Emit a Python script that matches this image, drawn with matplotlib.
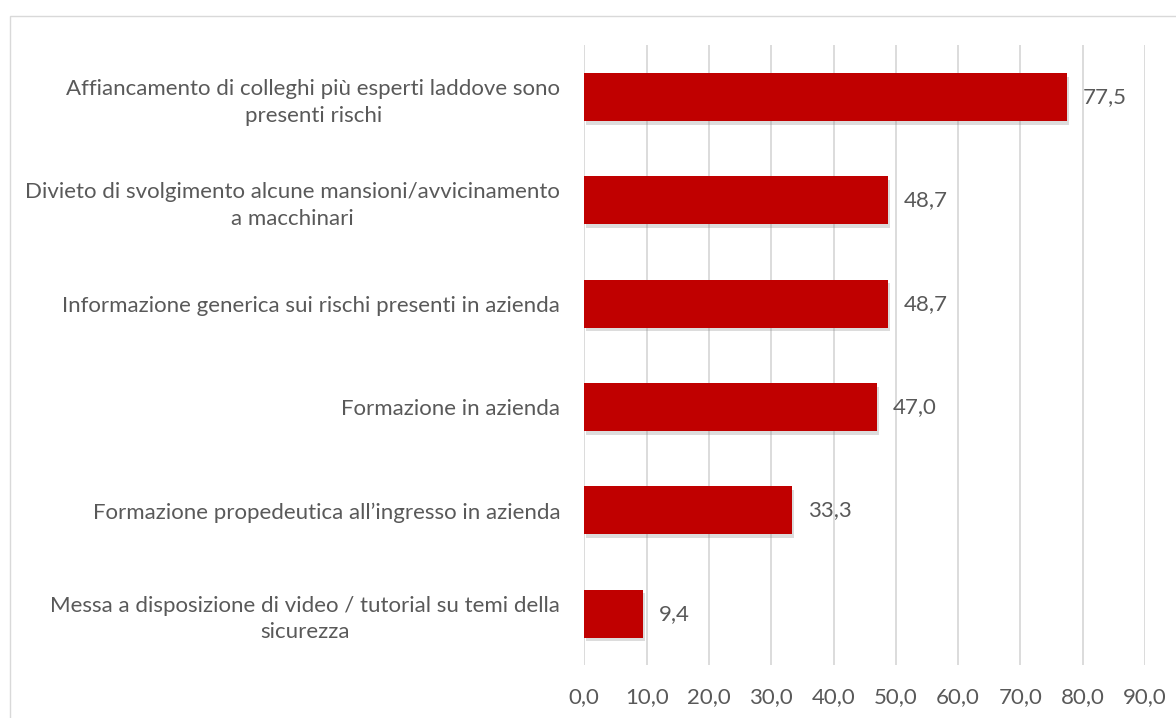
import matplotlib
matplotlib.use("Agg")
import matplotlib.pyplot as plt
import matplotlib.patheffects as pe
from matplotlib.patches import Rectangle

categories = [
    "Affiancamento di colleghi più esperti laddove sono\npresenti rischi",
    "Divieto di svolgimento alcune mansioni/avvicinamento\na macchinari",
    "Informazione generica sui rischi presenti in azienda",
    "Formazione in azienda",
    "Formazione propedeutica all\u2019ingresso in azienda",
    "Messa a disposizione di video / tutorial su temi della\nsicurezza",
]
values = [77.5, 48.7, 48.7, 47.0, 33.3, 9.4]
x_ticks = [0, 10, 20, 30, 40, 50, 60, 70, 80, 90]

BAR_COLOR = "#C00000"
TEXT_COLOR = "#595959"
GRID_COLOR = "#D9D9D9"
FS = 16

plt.rcParams["font.family"] = ["Lato", "DejaVu Sans"]

fig = plt.figure(figsize=(11.76, 7.18), dpi=100)
ax = fig.add_axes([584.3 / 1176, 1 - 665.4 / 718, (1145 - 584.3) / 1176, (665.4 - 45.4) / 718])

ypos = list(range(len(categories)))
bars = ax.barh(ypos, values, height=0.465, color=BAR_COLOR, zorder=3)
for b in bars:
    b.set_path_effects([
        pe.SimplePatchShadow(offset=(1.5, -2.5), shadow_rgbFace="#8C8C8C", alpha=0.3),
        pe.Normal(),
    ])

for y, v in zip(ypos, values):
    ax.annotate(f"{v:.1f}".replace(".", ","), xy=(v, y), xytext=(11.5, 0),
                textcoords="offset points", ha="left", va="center",
                fontsize=FS, color=TEXT_COLOR)

ax.set_xlim(0, 90)
ax.set_ylim(len(categories) - 0.5, -0.5)
ax.set_xticks(x_ticks)
ax.set_xticklabels([f"{t:.1f}".replace(".", ",") for t in x_ticks])
ax.set_yticks(ypos)
ax.set_yticklabels(categories, ha="right", multialignment="center", linespacing=1.42)
ax.tick_params(axis="x", length=0, pad=15.4, labelsize=FS, labelcolor=TEXT_COLOR)
ax.tick_params(axis="y", length=0, pad=17.3, labelsize=FS, labelcolor=TEXT_COLOR)

ax.grid(axis="x", color=GRID_COLOR, linewidth=1.3, zorder=0)
ax.set_axisbelow(True)
for s in ax.spines.values():
    s.set_visible(False)

# outer chart frame
fig.patches.append(Rectangle((10 / 1176, -0.1), 1.2, 1 - 16 / 718 + 0.1,
                             transform=fig.transFigure, fill=False,
                             edgecolor=GRID_COLOR, linewidth=1.0))

fig.savefig("out.png", dpi=100, facecolor="white")
